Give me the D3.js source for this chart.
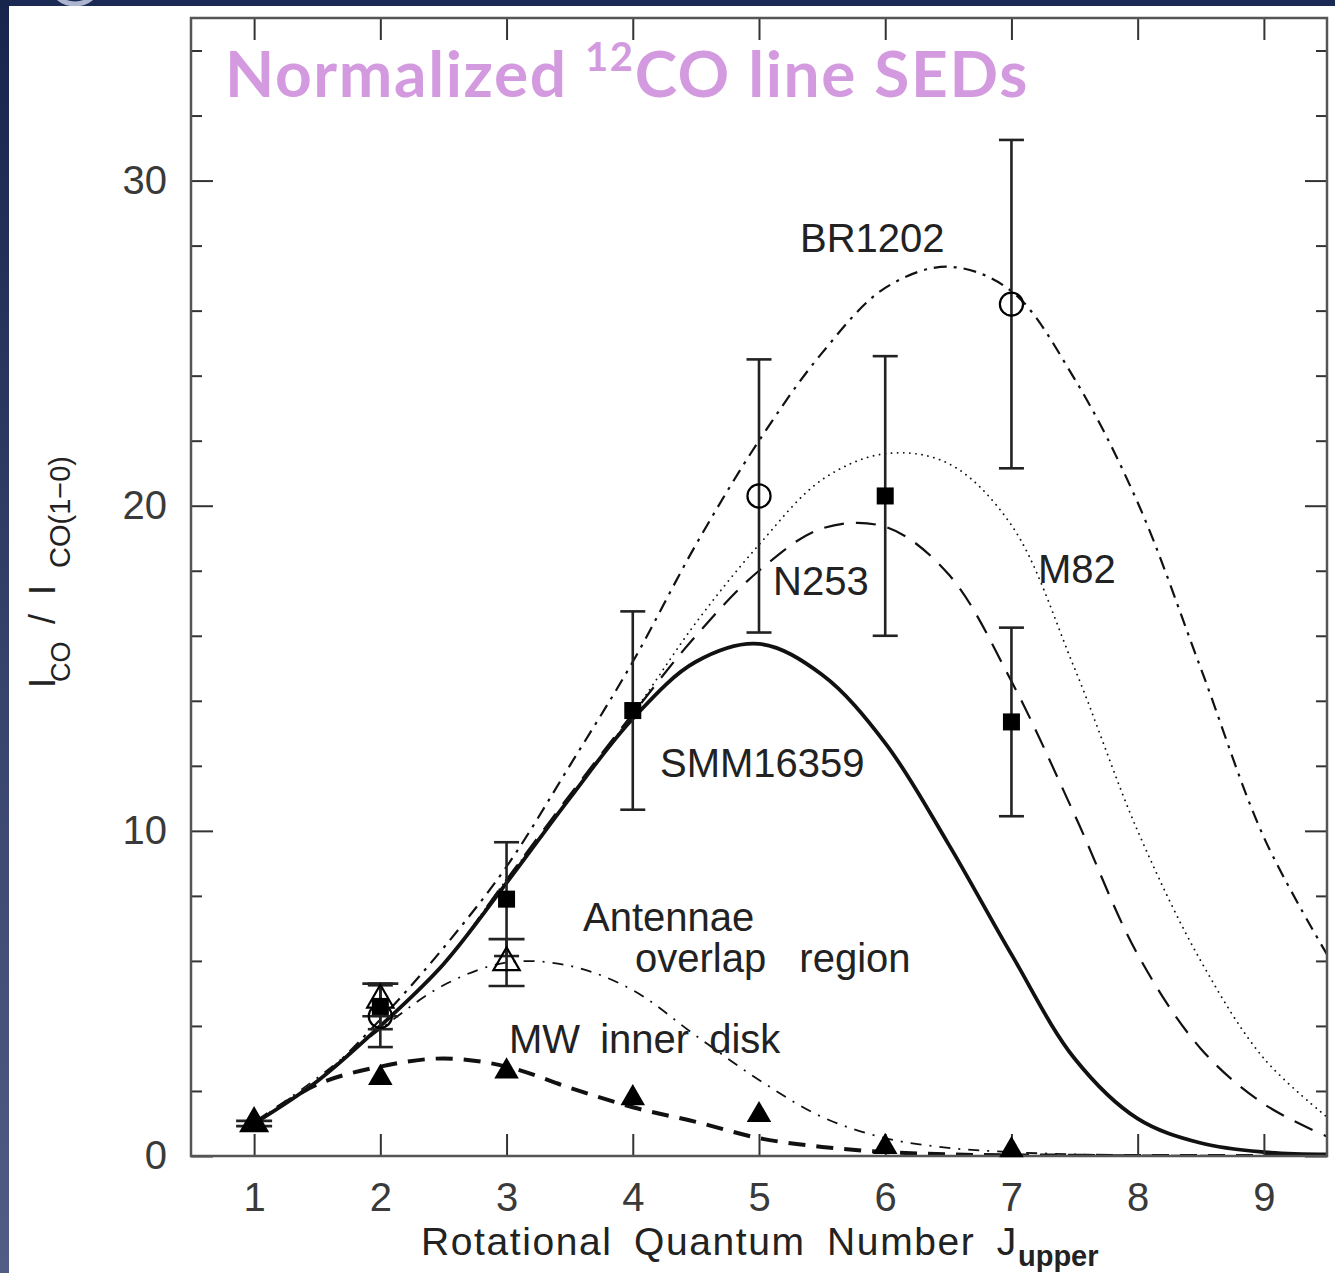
<!DOCTYPE html>
<html>
<head>
<meta charset="utf-8">
<script src="https://cdn.jsdelivr.net/npm/d3@7"></script>
<style>
  html, body { margin: 0; padding: 0; background: #1b2a55; }
  svg { display: block; }
  text { font-family: "Liberation Sans", Arial, sans-serif; fill: #222; }
</style>
</head>
<body>
<svg id="chart" width="1335" height="1273"></svg>
<script>
// Rotational quantum number grid used for the model curves
const jGrid = [1, 1.5, 2, 2.5, 3, 3.5, 4, 4.5, 5, 5.5, 6, 6.5, 7, 7.5, 8, 8.5, 9, 9.5];

// LVG model line SEDs, normalized to CO(1-0)
const smmModel    = [1.0, 2.3, 4.0, 5.9, 8.4, 11.0, 13.45, 15.2, 15.75, 14.8, 12.7, 9.6, 6.2, 3.0, 1.15, 0.4, 0.12, 0.05];
const n253Model   = [1.0, 2.3, 4.0, 5.9, 8.5, 11.1, 13.6, 16.0, 18.0, 19.3, 19.35, 17.9, 14.6, 10.5, 6.2, 3.3, 1.6, 0.6];
const m82Model    = [1.0, 2.3, 4.0, 5.9, 8.5, 11.0, 13.6, 16.4, 18.8, 20.8, 21.6, 21.3, 19.4, 15.0, 10.0, 6.0, 3.0, 1.2];
const br1202Model = [1.0, 2.3, 4.2, 6.4, 8.9, 12.0, 15.2, 18.8, 22.0, 24.7, 26.7, 27.35, 26.6, 23.9, 20.1, 15.0, 9.8, 6.2];
const antModel    = [1.0, 2.4, 3.9, 5.25, 5.95, 5.85, 5.1, 3.7, 2.34, 1.2, 0.55, 0.25, 0.12, 0.05, 0.02, 0.01, 0.0, 0.0];
const mwModel     = [1.0, 2.2, 2.75, 3.0, 2.75, 2.1, 1.5, 1.05, 0.55, 0.28, 0.12, 0.05, 0.02, 0.01, 0.0, 0.0, 0.0, 0.0];

// Measured line ratios
const smmJ = [2, 3, 4, 6, 7];
const smmVal = [4.6, 7.9, 13.7, 20.3, 13.35];
const smmErr = [0.7, 1.75, 3.05, 4.3, 2.9];

const brJ = [5, 7];
const brVal = [20.3, 26.2];
const brErr = [4.2, 5.05];

const antJ = [1, 2, 3];
const antVal = [1.0, 4.8, 5.95];
const antErr = [0.08, 0.5, 0.72];

const circJ = [2];
const circVal = [4.3];
const circErr = [0.95];

const mwJ = [1, 2, 3, 4, 5, 6, 7];
const mwVal = [1.0, 2.4, 2.6, 1.78, 1.26, 0.28, 0.18];

// Axis ticks
const xTicks = [1, 2, 3, 4, 5, 6, 7, 8, 9];
const yMajor = [0, 10, 20, 30];
const yMinor = [2, 4, 6, 8, 12, 14, 16, 18, 22, 24, 26, 28, 32, 34];

// Curve labels, anchored in data coordinates
const labelText = ["BR1202", "N253", "M82", "SMM16359", "Antennae", "overlap region", "MW inner disk"];
const labelJ    = [5.325, 5.111, 7.21, 4.216, 3.606, 4.018, 3.019];
const labelV    = [27.80, 17.25, 17.62, 11.66, 6.92, 5.66, 3.17];

const W = 1335, H = 1273;
const svg = d3.select("#chart");
const defs = svg.append("defs");

// Slide backdrop
const grad = defs.append("linearGradient").attr("id", "edge").attr("x1", 0).attr("y1", 0).attr("x2", 0).attr("y2", 1);
grad.append("stop").attr("offset", "0%").attr("stop-color", "#17254c");
grad.append("stop").attr("offset", "100%").attr("stop-color", "#525d85");
svg.append("rect").attr("width", W).attr("height", H).attr("fill", "#1b2a55");
svg.append("rect").attr("width", 10).attr("height", H).attr("fill", "url(#edge)");
svg.append("circle").attr("cx", 75).attr("cy", -22).attr("r", 26)
  .attr("fill", "none").attr("stroke", "#aeb6cf").attr("stroke-width", 5);
svg.append("rect").attr("x", 9).attr("y", 6).attr("width", W - 9).attr("height", H - 6).attr("fill", "#ffffff");

const plotLeft = 191, plotRight = 1327, plotTop = 18, plotBottom = 1156;
const x = d3.scaleLinear().domain([0.5, 9.5]).range([plotLeft, plotRight]);
const y = d3.scaleLinear().domain([0, 35]).range([plotBottom, plotTop]);

defs.append("clipPath").attr("id", "plot-clip")
  .append("rect").attr("x", plotLeft).attr("y", plotTop)
  .attr("width", plotRight - plotLeft).attr("height", plotBottom - plotTop);

// Model curves
const line = d3.line().x((d, i) => x(jGrid[i])).y(d => y(Math.max(0, d))).curve(d3.curveCatmullRom.alpha(0.5));
const curves = svg.append("g").attr("clip-path", "url(#plot-clip)").attr("fill", "none").attr("stroke", "#111");
const models = [
  { v: antModel,    w: 1.8, dash: "11,8,2,8", cap: "butt" },
  { v: mwModel,     w: 4,   dash: "17,11", cap: "butt" },
  { v: m82Model,    w: 1.8, dash: "0.1,6", cap: "round" },
  { v: n253Model,   w: 2.2, dash: "20,12", cap: "butt" },
  { v: br1202Model, w: 2.2, dash: "13,7,3,7", cap: "butt" },
  { v: smmModel,    w: 3.8, dash: null, cap: "butt" }
];
models.forEach(m => {
  curves.append("path").datum(m.v).attr("d", line)
    .attr("stroke-width", m.w)
    .attr("stroke-dasharray", m.dash)
    .attr("stroke-linecap", m.cap);
});

// Frame and ticks
const axisG = svg.append("g").attr("class", "axes");
function styleAxis(g) {
  g.select(".domain").remove();
  g.selectAll(".tick line").attr("stroke", "#333").attr("stroke-width", 2);
  g.selectAll(".tick text").style("font-size", "40px").style("fill", "#3a3a3a")
    .style("font-family", "'Liberation Sans', Arial, sans-serif");
}
axisG.append("g").attr("transform", `translate(0,${plotBottom})`)
  .call(d3.axisBottom(x).tickValues(xTicks).tickSize(-22).tickPadding(27).tickFormat(d3.format("d")))
  .call(styleAxis);
axisG.append("g").attr("transform", `translate(0,${plotTop})`)
  .call(d3.axisTop(x).tickValues(xTicks).tickSize(-22).tickFormat(""))
  .call(styleAxis);
axisG.append("g").attr("transform", `translate(${plotLeft},0)`)
  .call(d3.axisLeft(y).tickValues(yMajor).tickSize(-22).tickPadding(24).tickFormat(d3.format("d")))
  .call(styleAxis);
axisG.append("g").attr("transform", `translate(${plotLeft},0)`)
  .call(d3.axisLeft(y).tickValues(yMinor).tickSize(-11).tickFormat(""))
  .call(styleAxis);
axisG.append("g").attr("transform", `translate(${plotRight},0)`)
  .call(d3.axisRight(y).tickValues(yMajor).tickSize(-22).tickFormat(""))
  .call(styleAxis);
axisG.append("g").attr("transform", `translate(${plotRight},0)`)
  .call(d3.axisRight(y).tickValues(yMinor).tickSize(-11).tickFormat(""))
  .call(styleAxis);
svg.append("rect").attr("x", plotLeft).attr("y", plotTop)
  .attr("width", plotRight - plotLeft).attr("height", plotBottom - plotTop)
  .attr("fill", "none").attr("stroke", "#555").attr("stroke-width", 2.5);

// Error bars
const errG = svg.append("g").attr("stroke", "#222").attr("stroke-width", 2.6);
function errorBars(js, vals, errs, capW) {
  js.forEach((j, i) => {
    const cx = x(j), y0 = y(vals[i] - errs[i]), y1 = y(vals[i] + errs[i]);
    errG.append("line").attr("x1", cx).attr("x2", cx).attr("y1", y0).attr("y2", y1);
    errG.append("line").attr("x1", cx - capW / 2).attr("x2", cx + capW / 2).attr("y1", y0).attr("y2", y0);
    errG.append("line").attr("x1", cx - capW / 2).attr("x2", cx + capW / 2).attr("y1", y1).attr("y2", y1);
  });
}
errorBars(smmJ, smmVal, smmErr, 25);
errorBars(brJ, brVal, brErr, 25);
errorBars(circJ, circVal, circErr, 25);
errorBars(antJ, antVal, antErr, 36);

// Markers
const mk = svg.append("g");
function markers(js, vals, type, size, filled) {
  const sym = d3.symbol().type(type).size(size);
  js.forEach((j, i) => {
    mk.append("path").attr("d", sym())
      .attr("transform", `translate(${x(j)},${y(vals[i])})`)
      .attr("fill", filled ? "#000" : "none")
      .attr("stroke", "#000").attr("stroke-width", filled ? 0 : 2.2);
  });
}
markers(mwJ, mwVal, d3.symbolTriangle, 260, true);
markers(antJ, antVal, d3.symbolTriangle, 300, false);
markers(circJ, circVal, d3.symbolCircle, 420, false);
markers(brJ, brVal, d3.symbolCircle, 420, false);
markers(smmJ, smmVal, d3.symbolSquare, 290, true);

// Curve labels
const lab = svg.append("g").style("font-size", "40px");
labelText.forEach((t, i) => {
  lab.append("text").attr("x", x(labelJ[i])).attr("y", y(labelV[i]))
    .style("word-spacing", i === 5 ? "22px" : (i === 6 ? "9px" : "0px"))
    .text(t);
});

// Axis titles
const xt = svg.append("text").attr("x", 421).attr("y", 1255)
  .style("font-size", "39px").style("letter-spacing", "1.6px").style("word-spacing", "9px");
xt.append("tspan").text("Rotational Quantum Number J");
xt.append("tspan").attr("dy", 11).style("font-size", "29px").style("font-weight", "bold").style("letter-spacing", "0px").text("upper");

const yt = svg.append("text").attr("transform", "translate(55,688) rotate(-90)").style("font-size", "36px");
yt.append("tspan").attr("x", 0).attr("y", 0).text("I");
yt.append("tspan").attr("x", 6).attr("y", 15).style("font-size", "27px").text("CO");
yt.append("tspan").attr("x", 64).attr("y", 0).text("/");
yt.append("tspan").attr("x", 93).attr("y", 0).text("I");
yt.append("tspan").attr("x", 120).attr("y", 15).style("font-size", "29px").text("CO(1\u22120)");

// Slide title
const title = svg.append("text").attr("x", 225).attr("y", 97)
  .style("font-family", "Lato, 'Open Sans', sans-serif").style("font-weight", "700")
  .style("font-size", "64px").style("fill", "#d49ae0");
title.append("tspan").text("Normalized ");
title.append("tspan").attr("dy", -26).style("font-size", "40px").text("12");
title.append("tspan").attr("dy", 26).text("CO line SEDs");
// widen the tracking so the heading spans its full 804px
const tw = title.node().getComputedTextLength();
const nChars = "Normalized 12CO line SEDs".length;
title.style("letter-spacing", ((804 - tw) / nChars) + "px");
</script>
</body>
</html>
